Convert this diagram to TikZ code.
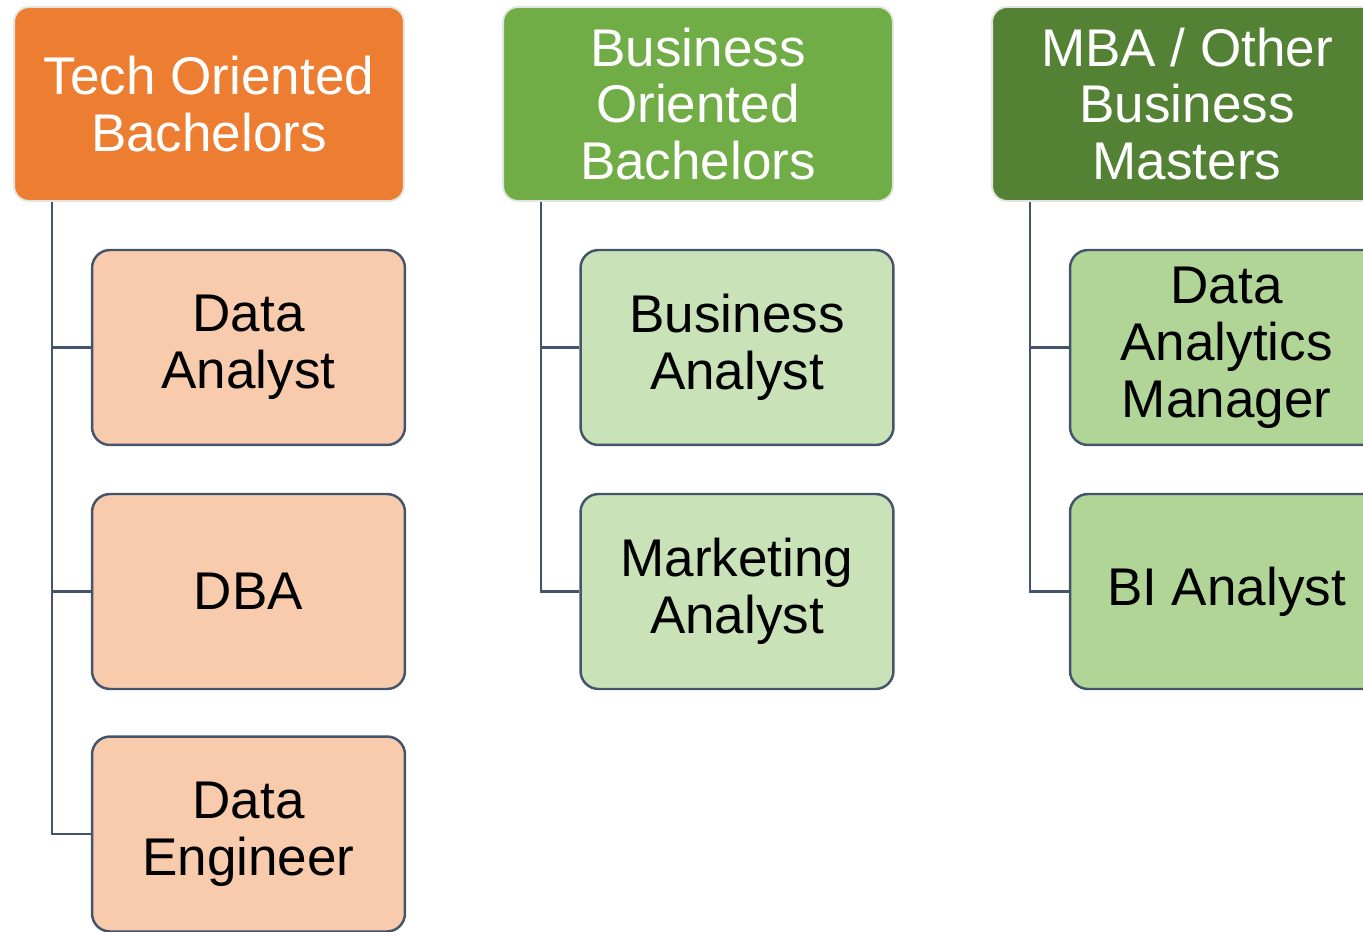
\documentclass[tikz,border=0pt]{standalone}
\usepackage{fontspec}
\setmainfont{Liberation Sans}
\definecolor{techorange}{HTML}{ED7D31}
\definecolor{bizgreen}{HTML}{70AD47}
\definecolor{mbagreen}{HTML}{548235}
\definecolor{techlight}{HTML}{F8CBAD}
\definecolor{bizlight}{HTML}{C9E2B8}
\definecolor{mbalight}{HTML}{B1D597}
\definecolor{slate}{HTML}{44546A}
\definecolor{headrim}{HTML}{E4E4E4}
\tikzset{%
  headnode/.style = {shape=rectangle, rounded corners=0.3cm,%
                     draw=headrim, line width=1.1pt, align=center,%
                     text=white, minimum width=7.8cm, minimum height=3.88cm},%
  techhead/.style = {headnode, fill=techorange},%
  bizhead/.style  = {headnode, fill=bizgreen},%
  mbahead/.style  = {headnode, fill=mbagreen},%
  rolenode/.style = {shape=rectangle, rounded corners=0.36cm,%
                     draw=slate, line width=1.4pt, align=center,%
                     minimum width=6.26cm, minimum height=3.9cm},%
  techrole/.style = {rolenode, fill=techlight},%
  bizrole/.style  = {rolenode, fill=bizlight},%
  mbarole/.style  = {rolenode, fill=mbalight},%
  link/.style     = {draw=slate, line width=1.5pt}%
}

\begin{document}
\begin{tikzpicture}[x=0.02cm, y=-0.02cm,
  every node/.style = {font=\fontsize{30.2}{32.4}\selectfont}]%
	\useasboundingbox (0,0) rectangle (1363,932);
	\clip (0,0) rectangle (1363,932);
	% column heads
	\node [techhead] (tech) at (209,104)  {Tech Oriented\\Bachelors};%
	\node [bizhead]  (biz)  at (698,104)  {Business\\Oriented\\Bachelors};%
	\node [mbahead]  (mba)  at (1187,104) {MBA / Other\\Business\\Masters};%
	% roles
	\node [techrole] (dana) at (248.5,347.5) {Data\\Analyst};%
	\node [techrole] (dba)  at (248.5,591.5) {DBA};%
	\node [techrole] (deng) at (248.5,834)   {Data\\Engineer};%
	\node [bizrole]  (bana) at (737,347.5)   {Business\\Analyst};%
	\node [bizrole]  (mana) at (737,591.5)   {Marketing\\Analyst};%
	\node [mbarole]  (damg) at (1226.5,347.5) {Data\\Analytics\\Manager};%
	\node [mbarole]  (bian) at (1226.5,591.5) {BI Analyst};%
	% links
	\foreach \head/\role in {tech/dana, tech/dba, tech/deng, biz/bana, biz/mana,
	                         mba/damg, mba/bian}
		\draw [link] ([xshift=0.78cm]\head.south west) |- (\role.west);
\end{tikzpicture}
\end{document}
